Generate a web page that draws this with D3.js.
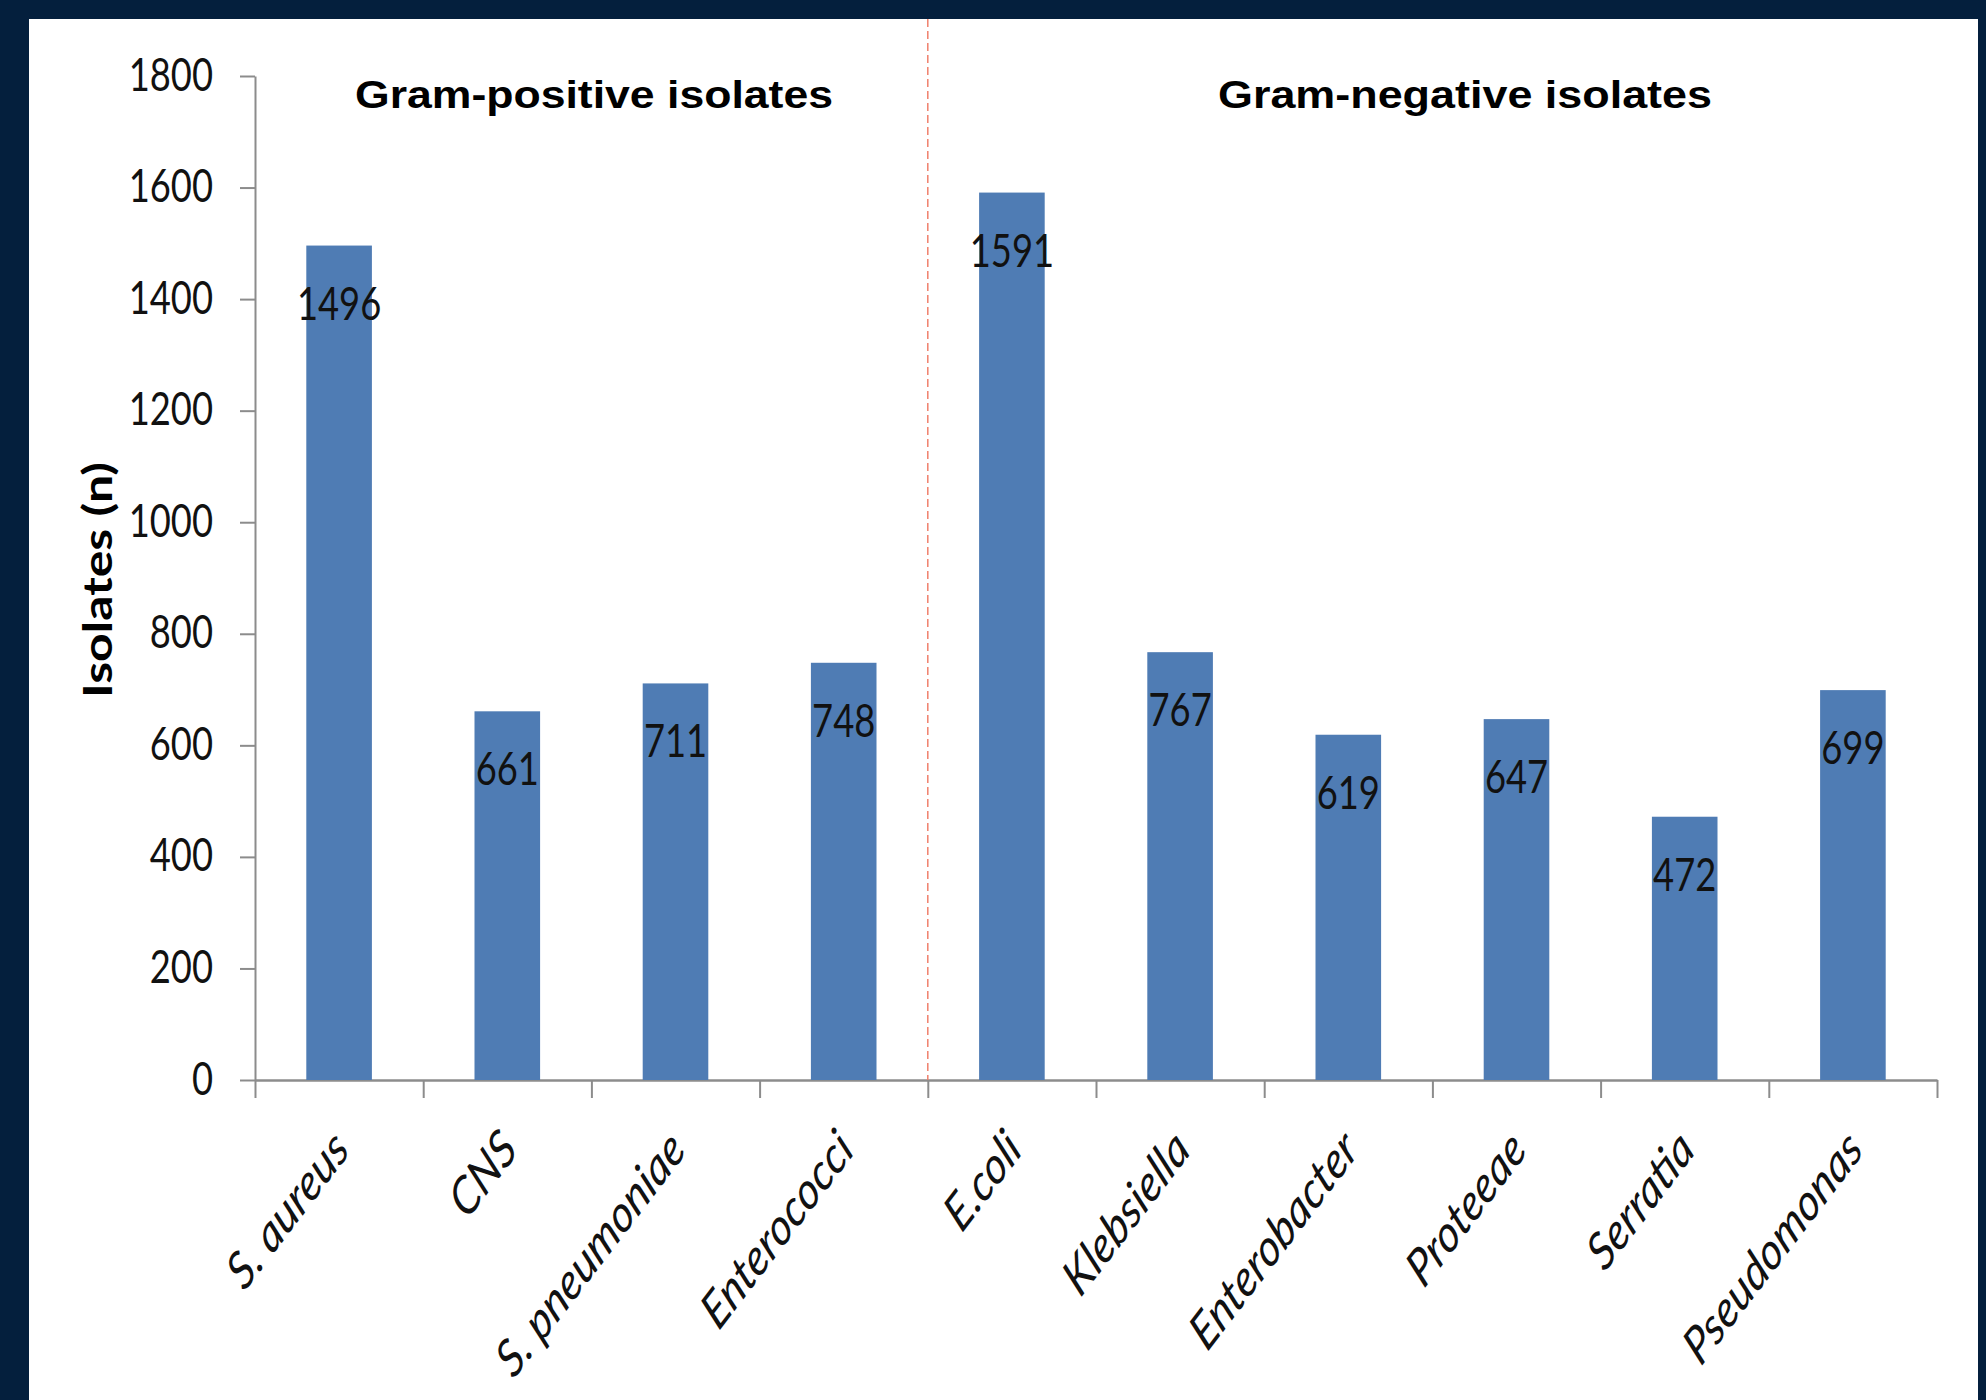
<!DOCTYPE html>
<html>
<head>
<meta charset="utf-8">
<script src="https://cdn.jsdelivr.net/npm/d3@7"></script>
<style>
html,body{margin:0;padding:0;background:#041f3d;}
svg{display:block;}
</style>
</head>
<body>
<div id="chart"></div>
<script>
// data
const categories = ["S. aureus","CNS","S. pneumoniae","Enterococci","E.coli","Klebsiella","Enterobacter","Proteeae","Serratia","Pseudomonas"];
const isolates = [1496,661,711,748,1591,767,619,647,472,699];
const yTicks = [0,200,400,600,800,1000,1200,1400,1600,1800];
const groupTitles = ["Gram-positive isolates","Gram-negative isolates"];
const groupSplit = 4; // first gram-negative category

const W = 1986, H = 1400;
const sx = 0.79; // the original picture was squeezed sideways
const plotL = 255, plotR = 1937, plotT = 76, plotB = 1080;

const svg = d3.select("#chart").append("svg")
    .attr("width", W)
    .attr("height", H);

svg.append("rect").attr("x",0).attr("y",0).attr("width",W).attr("height",H).attr("fill","#041f3d");
svg.append("rect").attr("x",29).attr("y",19).attr("width",1978-29).attr("height",H-19).attr("fill","#ffffff");

const y = d3.scaleLinear().domain([0,1800]).range([plotB,plotT]);
const xCat = d3.scaleBand().domain(categories).range([plotL,plotR]).padding(0);
const xBar = d3.scaleBand().domain(categories).range([plotL,plotR]).paddingInner(0.61).paddingOuter(0.305);
const xIdx = d3.scaleLinear().domain([0,categories.length]).range([plotL,plotR]);

// y axis
const yAxis = svg.append("g")
    .attr("transform","translate("+plotL+",0)")
    .call(d3.axisLeft(y).tickValues(yTicks).tickSize(15).tickSizeOuter(0).tickFormat(d3.format("d")));
yAxis.select(".domain").attr("stroke","#8c8c8c").attr("stroke-width",2);
yAxis.selectAll(".tick line").attr("stroke","#8c8c8c").attr("stroke-width",2);
yAxis.selectAll(".tick text")
    .attr("x",null).attr("dy",null)
    .attr("transform","translate(-42,14) scale("+sx+",1)")
    .attr("text-anchor","end")
    .style("font-family","Lato, 'Open Sans', sans-serif")
    .style("font-size","46px")
    .attr("fill","#111");

// x axis (ticks between categories)
const xAxis = svg.append("g")
    .attr("transform","translate(0,"+plotB+")")
    .call(d3.axisBottom(xIdx).tickValues(d3.range(categories.length+1)).tickSize(18).tickSizeOuter(0).tickFormat(""));
xAxis.select(".domain").attr("stroke","#8c8c8c").attr("stroke-width",2.5);
xAxis.selectAll(".tick line").attr("stroke","#8c8c8c").attr("stroke-width",2);

// bars
svg.append("g").selectAll("rect")
    .data(categories)
    .join("rect")
    .attr("x", d => xBar(d))
    .attr("y", (d,i) => y(isolates[i]))
    .attr("width", xBar.bandwidth())
    .attr("height", (d,i) => plotB - y(isolates[i]))
    .attr("fill","#4f7cb4");

// value labels inside the bars
svg.append("g").selectAll("text")
    .data(categories)
    .join("text")
    .attr("transform", (d,i) => "translate("+(xBar(d)+xBar.bandwidth()/2)+","+(y(isolates[i])+74)+") scale("+sx+",1)")
    .attr("text-anchor","middle")
    .style("font-family","Lato, 'Open Sans', sans-serif")
    .style("font-size","46px")
    .attr("fill","#111")
    .text((d,i) => isolates[i]);

// category labels, rotated
svg.append("g").selectAll("text")
    .data(categories)
    .join("text")
    .attr("transform", d => "translate("+(xCat(d)+xCat.bandwidth()/2+12)+","+(plotB+72)+") scale("+sx+",1) rotate(-46)")
    .attr("text-anchor","end")
    .style("font-family","Lato, 'Open Sans', sans-serif")
    .style("font-style","italic")
    .style("font-size","52px")
    .attr("fill","#111")
    .text(d => d);

// dashed divider between the two groups
svg.append("line")
    .attr("x1", xIdx(groupSplit)).attr("x2", xIdx(groupSplit))
    .attr("y1", 19).attr("y2", plotB)
    .attr("stroke","#f0806c").attr("stroke-width",1.5)
    .attr("stroke-dasharray","8,4");

// group titles
const titleX = [594,1465];
const titleLen = [478,494];
svg.append("g").selectAll("text")
    .data(groupTitles)
    .join("text")
    .attr("x",(d,i) => titleX[i])
    .attr("y",108)
    .attr("text-anchor","middle")
    .attr("textLength",(d,i) => titleLen[i])
    .attr("lengthAdjust","spacingAndGlyphs")
    .style("font-family","'Liberation Sans', Arial, sans-serif")
    .style("font-weight","bold")
    .style("font-size","38px")
    .attr("fill","#000")
    .text(d => d);

// y axis title
svg.append("text")
    .attr("transform","translate(112,580) scale("+sx+",1) rotate(-90)")
    .attr("text-anchor","middle")
    .style("font-family","Lato, 'Open Sans', sans-serif")
    .style("font-weight","bold")
    .style("font-size","50px")
    .attr("fill","#000")
    .text("Isolates (n)");
</script>
</body>
</html>
